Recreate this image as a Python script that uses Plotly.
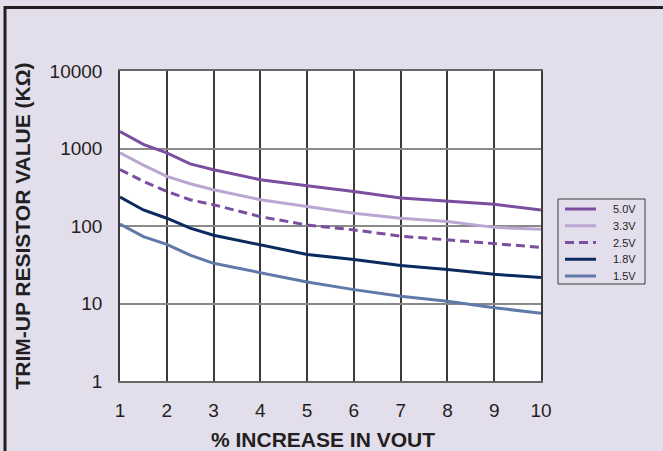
import plotly.graph_objects as go

pct_increase = [1, 1.5, 2, 2.5, 3, 4, 5, 6, 7, 8, 9, 10]
r_5v0 = [1660, 1130, 880, 632, 533, 395, 330, 279, 229, 207, 191, 161]
r_3v3 = [880, 610, 436, 351, 294, 218, 178, 146, 126, 114, 96, 91]
r_2v5 = [533, 377, 279, 218, 188, 132, 103, 89, 74, 66, 60, 53]
r_1v8 = [236, 161, 126, 94, 76, 57, 43, 37, 31, 27.4, 23.8, 21.6]
r_1v5 = [106, 73, 58, 42, 33, 24.8, 18.9, 15.1, 12.4, 10.7, 8.8, 7.5]

series_names = ["5.0V", "3.3V", "2.5V", "1.8V", "1.5V"]
series_values = [r_5v0, r_3v3, r_2v5, r_1v8, r_1v5]
series_colors = ["#7B4FA0", "#BBA6D3", "#7B4FA0", "#0B2A5E", "#6079A8"]
series_dash = ["solid", "solid", "9px,5px", "solid", "solid"]

y_tickvals = [1, 10, 100, 1000, 10000]
y_ticktext = ["1", "10", "100", "1000", "10000"]
x_tickvals = [1, 2, 3, 4, 5, 6, 7, 8, 9, 10]

x_title = "% INCREASE IN VOUT"
y_title = "TRIM-UP RESISTOR VALUE (KΩ)"

W, H = 663, 451
L, R, T, B = 120, 122, 71, 70
pw, ph = W - L - R, H - T - B


def px_x(v):
    return (v - L) / pw


def px_y(v):
    return (H - B - v) / ph


fig = go.Figure()
for name, vals, col, dash in zip(series_names, series_values, series_colors, series_dash):
    fig.add_trace(go.Scatter(x=pct_increase, y=vals, mode="lines", name=name,
                             line=dict(color=col, width=3, dash=dash), showlegend=False))

font_family = "Liberation Sans, Arial, sans-serif"
fig.update_layout(
    width=W, height=H,
    margin=dict(l=L, r=R, t=T, b=B, autoexpand=False),
    paper_bgcolor="#E3DEEC",
    plot_bgcolor="#FFFFFF",
    font=dict(family=font_family, color="#231F20"),
    showlegend=False,
    xaxis=dict(range=[1, 10], tickvals=x_tickvals, showgrid=True, gridcolor="#3A3A3A",
               gridwidth=1.5, showline=True, linecolor="#666666", linewidth=1.5, mirror=True,
               zeroline=False, ticks="", tickfont=dict(size=19), ticklabelstandoff=11),
    yaxis=dict(type="log", range=[0, 4], tickvals=y_tickvals, ticktext=y_ticktext,
               showgrid=True, gridcolor="#8A8A8A", gridwidth=1.5, showline=True,
               linecolor="#3A3A3A", linewidth=1.5, mirror=True, zeroline=False, ticks="",
               tickfont=dict(size=19), ticklabelstandoff=12,
               title=dict(text="<b>" + y_title + "</b>", font=dict(size=21), standoff=13)),
)

# x-axis title (offset left of plot centre, as in the original)
fig.add_annotation(xref="paper", yref="paper", x=px_x(322.5), y=px_y(439.5),
                   text="<b>" + x_title + "</b>", showarrow=False,
                   xanchor="center", yanchor="middle", font=dict(size=21, color="#231F20"))

# legend box (drawn to match the original's compact layout)
leg_x0, leg_x1, leg_y0, leg_y1 = 558, 645, 199, 284
fig.add_shape(type="rect", xref="paper", yref="paper",
              x0=px_x(leg_x0), x1=px_x(leg_x1), y0=px_y(leg_y1), y1=px_y(leg_y0),
              line=dict(color="#3A3A3A", width=1), fillcolor="rgba(0,0,0,0)")
leg_first, leg_step = 209, 16.75
for i, (name, col, dash) in enumerate(zip(series_names, series_colors, series_dash)):
    yy = px_y(leg_first + leg_step * i)
    fig.add_shape(type="line", xref="paper", yref="paper",
                  x0=px_x(565), x1=px_x(596), y0=yy, y1=yy,
                  line=dict(color=col, width=3, dash=dash))
    fig.add_annotation(xref="paper", yref="paper", x=px_x(611), y=yy, text=name,
                       showarrow=False, xanchor="left", yanchor="middle",
                       font=dict(size=11, color="#231F20"))

# outer frame (top and left edges visible)
fig.add_shape(type="rect", xref="paper", yref="paper",
              x0=px_x(5), x1=2.0, y0=-1.0, y1=px_y(7.5),
              line=dict(color="#231F20", width=3), fillcolor="rgba(0,0,0,0)")

fig.write_html("out.html", config={"displayModeBar": False},
               post_script="document.body.style.margin='0px';document.body.style.background='#FFFFFF';")
